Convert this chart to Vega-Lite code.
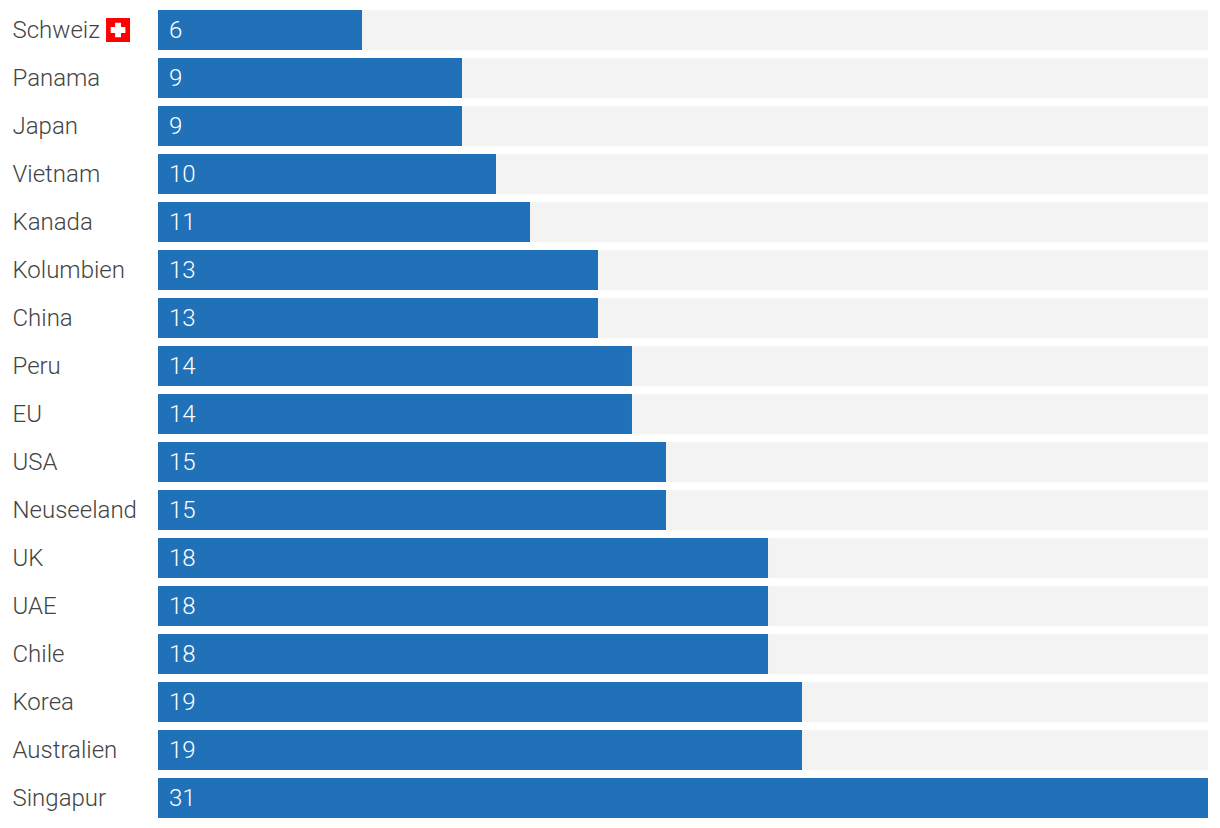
{
"$schema":"https://vega.github.io/schema/vega-lite/v6.json",
"width":1050,"height":816,
"autosize":{"type":"none"},
"padding":{"left":158,"top":6,"right":12,"bottom":6},
"background":"#ffffff",
"config":{"view":{"stroke":null},"font":"Roboto"},
"data":{"values":[
{"land":"Schweiz","wert":6.023},{"land":"Panama","wert":8.975},{"land":"Japan","wert":8.975},{"land":"Vietnam","wert":9.979},{"land":"Kanada","wert":10.983},{"land":"Kolumbien","wert":12.99},{"land":"China","wert":12.99},{"land":"Peru","wert":13.994},{"land":"EU","wert":13.994},{"land":"USA","wert":14.998},{"land":"Neuseeland","wert":14.998},{"land":"UK","wert":18.01},{"land":"UAE","wert":18.01},{"land":"Chile","wert":18.01},{"land":"Korea","wert":19.013},{"land":"Australien","wert":19.013},{"land":"Singapur","wert":31}
]},
"encoding":{
"y":{"field":"land","type":"nominal","sort":null,"title":null,
"scale":{"paddingInner":0.16667,"paddingOuter":0.08333},
"axis":{"domain":false,"ticks":false,"labelAlign":"left","labelPadding":146,"labelOffset":1,"labelFont":"Roboto","labelFontWeight":300,"labelFontSize":24,"labelColor":"#444444","labelLimit":150}}
},
"layer":[
{"mark":{"type":"bar","color":"#f3f3f3","clip":false},
 "encoding":{"x":{"datum":0,"type":"quantitative","scale":{"domain":[0,31],"nice":false,"zero":false},"axis":null},"x2":{"datum":31}}},
{"mark":{"type":"bar","color":"#2171b9"},
 "encoding":{"x":{"field":"wert","type":"quantitative","axis":null,"title":null}}},
{"mark":{"type":"text","align":"left","baseline":"middle","dx":11,"dy":1,"color":"#ffffff","font":"Roboto","fontWeight":300,"fontSize":24},
 "encoding":{"x":{"datum":0,"type":"quantitative"},"text":{"field":"wert","type":"quantitative","format":".0f"}}},
{"transform":[{"filter":"datum.land === 'Schweiz'"}],
 "mark":{"type":"point","shape":"square","filled":true,"color":"#ff0000","size":576,"opacity":1,"clip":false},
 "encoding":{"x":{"datum":-1.18,"type":"quantitative"}}},
{"transform":[{"filter":"datum.land === 'Schweiz'"}],
 "mark":{"type":"point","shape":"cross","filled":true,"color":"#ffffff","size":216,"opacity":1,"clip":false},
 "encoding":{"x":{"datum":-1.18,"type":"quantitative"}}}
]
}
